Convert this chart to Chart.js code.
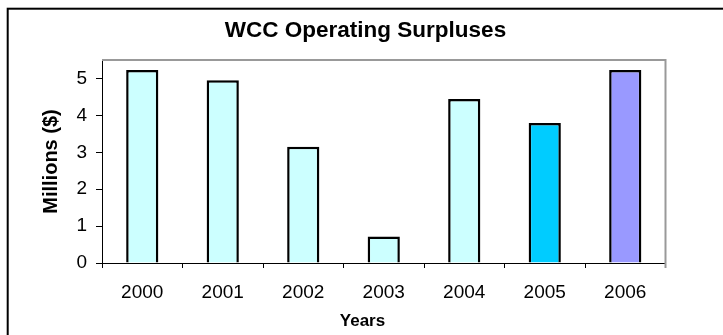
<!DOCTYPE html>
<html>
<head>
<meta charset="utf-8">
<script src="https://cdn.jsdelivr.net/npm/chart.js@4/dist/chart.umd.min.js"></script>
<style>
  html, body { margin: 0; padding: 0; background: #fff; }
  canvas { display: block; }
</style>
</head>
<body>
<canvas id="myChart" width="723" height="335"></canvas>
<script>
const chartTitle = 'WCC Operating Surpluses';
const xTitle = 'Years';
const yTitle = 'Millions ($)';

const years = ['2000', '2001', '2002', '2003', '2004', '2005', '2006'];
const surplus = [5.23, 4.95, 3.15, 0.72, 4.44, 3.79, 5.23];
const barColors = ['#CCFFFF', '#CCFFFF', '#CCFFFF', '#CCFFFF', '#CCFFFF', '#00CCFF', '#9999FF'];

const yMin = 0;
const yMax = 5.5;
const yTicks = [0, 1, 2, 3, 4, 5];

const FONT = '"Liberation Sans", Arial, sans-serif';

// outer frame, plot-area border and the centred title texts
const frame = {
    id: 'frame',
    beforeDraw(chart) {
        const {ctx} = chart;
        ctx.save();
        ctx.fillStyle = '#fff';
        ctx.fillRect(0, 0, chart.width, chart.height);
        ctx.strokeStyle = '#000';
        ctx.lineWidth = 2;
        ctx.strokeRect(7.7, 8.7, chart.width + 20, chart.height + 20);
        ctx.restore();
    },
    afterDatasetsDraw(chart) {
        const {ctx, chartArea} = chart;
        ctx.save();
        ctx.strokeStyle = '#999';
        ctx.lineWidth = 2;
        ctx.beginPath();
        ctx.moveTo(chartArea.left, chartArea.top);
        ctx.lineTo(chartArea.right, chartArea.top);
        ctx.lineTo(chartArea.right, chartArea.bottom + 5);
        ctx.stroke();

        const cx = chart.width / 2 + 1;
        ctx.fillStyle = '#000';
        ctx.textAlign = 'center';
        ctx.textBaseline = 'middle';
        ctx.font = 'bold 22.5px ' + FONT;
        ctx.fillText(chartTitle, cx + 3, 31);
        ctx.font = 'bold 17px ' + FONT;
        ctx.fillText(xTitle, cx, 321);
        ctx.restore();
    }
};

new Chart(document.getElementById('myChart').getContext('2d'), {
    type: 'bar',
    data: {
        labels: years,
        datasets: [{
            data: surplus,
            backgroundColor: barColors,
            borderColor: '#000',
            borderWidth: 2.5,
            categoryPercentage: 1,
            barPercentage: 0.4
        }]
    },
    options: {
        responsive: false,
        animation: false,
        devicePixelRatio: 1,
        layout: {
            padding: {top: 60, right: 57.5, left: 0, bottom: 0}
        },
        plugins: {
            legend: {display: false},
            title: {display: false},
            tooltip: {enabled: false}
        },
        scales: {
            x: {
                grid: {
                    display: true,
                    drawOnChartArea: false,
                    drawTicks: true,
                    tickLength: 5,
                    color: '#000',
                    offset: true
                },
                border: {display: true, color: '#000', width: 1},
                ticks: {
                    color: '#000',
                    font: {family: FONT, size: 19},
                    padding: 13,
                    maxRotation: 0
                },
                afterFit(scale) { scale.height = 72; }
            },
            y: {
                min: yMin,
                max: yMax,
                bounds: 'data',
                grid: {
                    display: true,
                    drawOnChartArea: false,
                    drawTicks: true,
                    tickLength: 6,
                    color: '#000'
                },
                border: {display: true, color: '#000', width: 1},
                ticks: {
                    color: '#000',
                    font: {family: FONT, size: 19},
                    padding: 9
                },
                title: {
                    display: true,
                    text: yTitle,
                    color: '#000',
                    font: {family: FONT, size: 20, weight: 'bold'},
                    padding: {top: 39, bottom: 0}
                },
                afterBuildTicks(scale) {
                    scale.ticks = yTicks.map(v => ({value: v}));
                },
                afterFit(scale) { scale.width = 102; }
            }
        }
    },
    plugins: [frame]
});
</script>
</body>
</html>
